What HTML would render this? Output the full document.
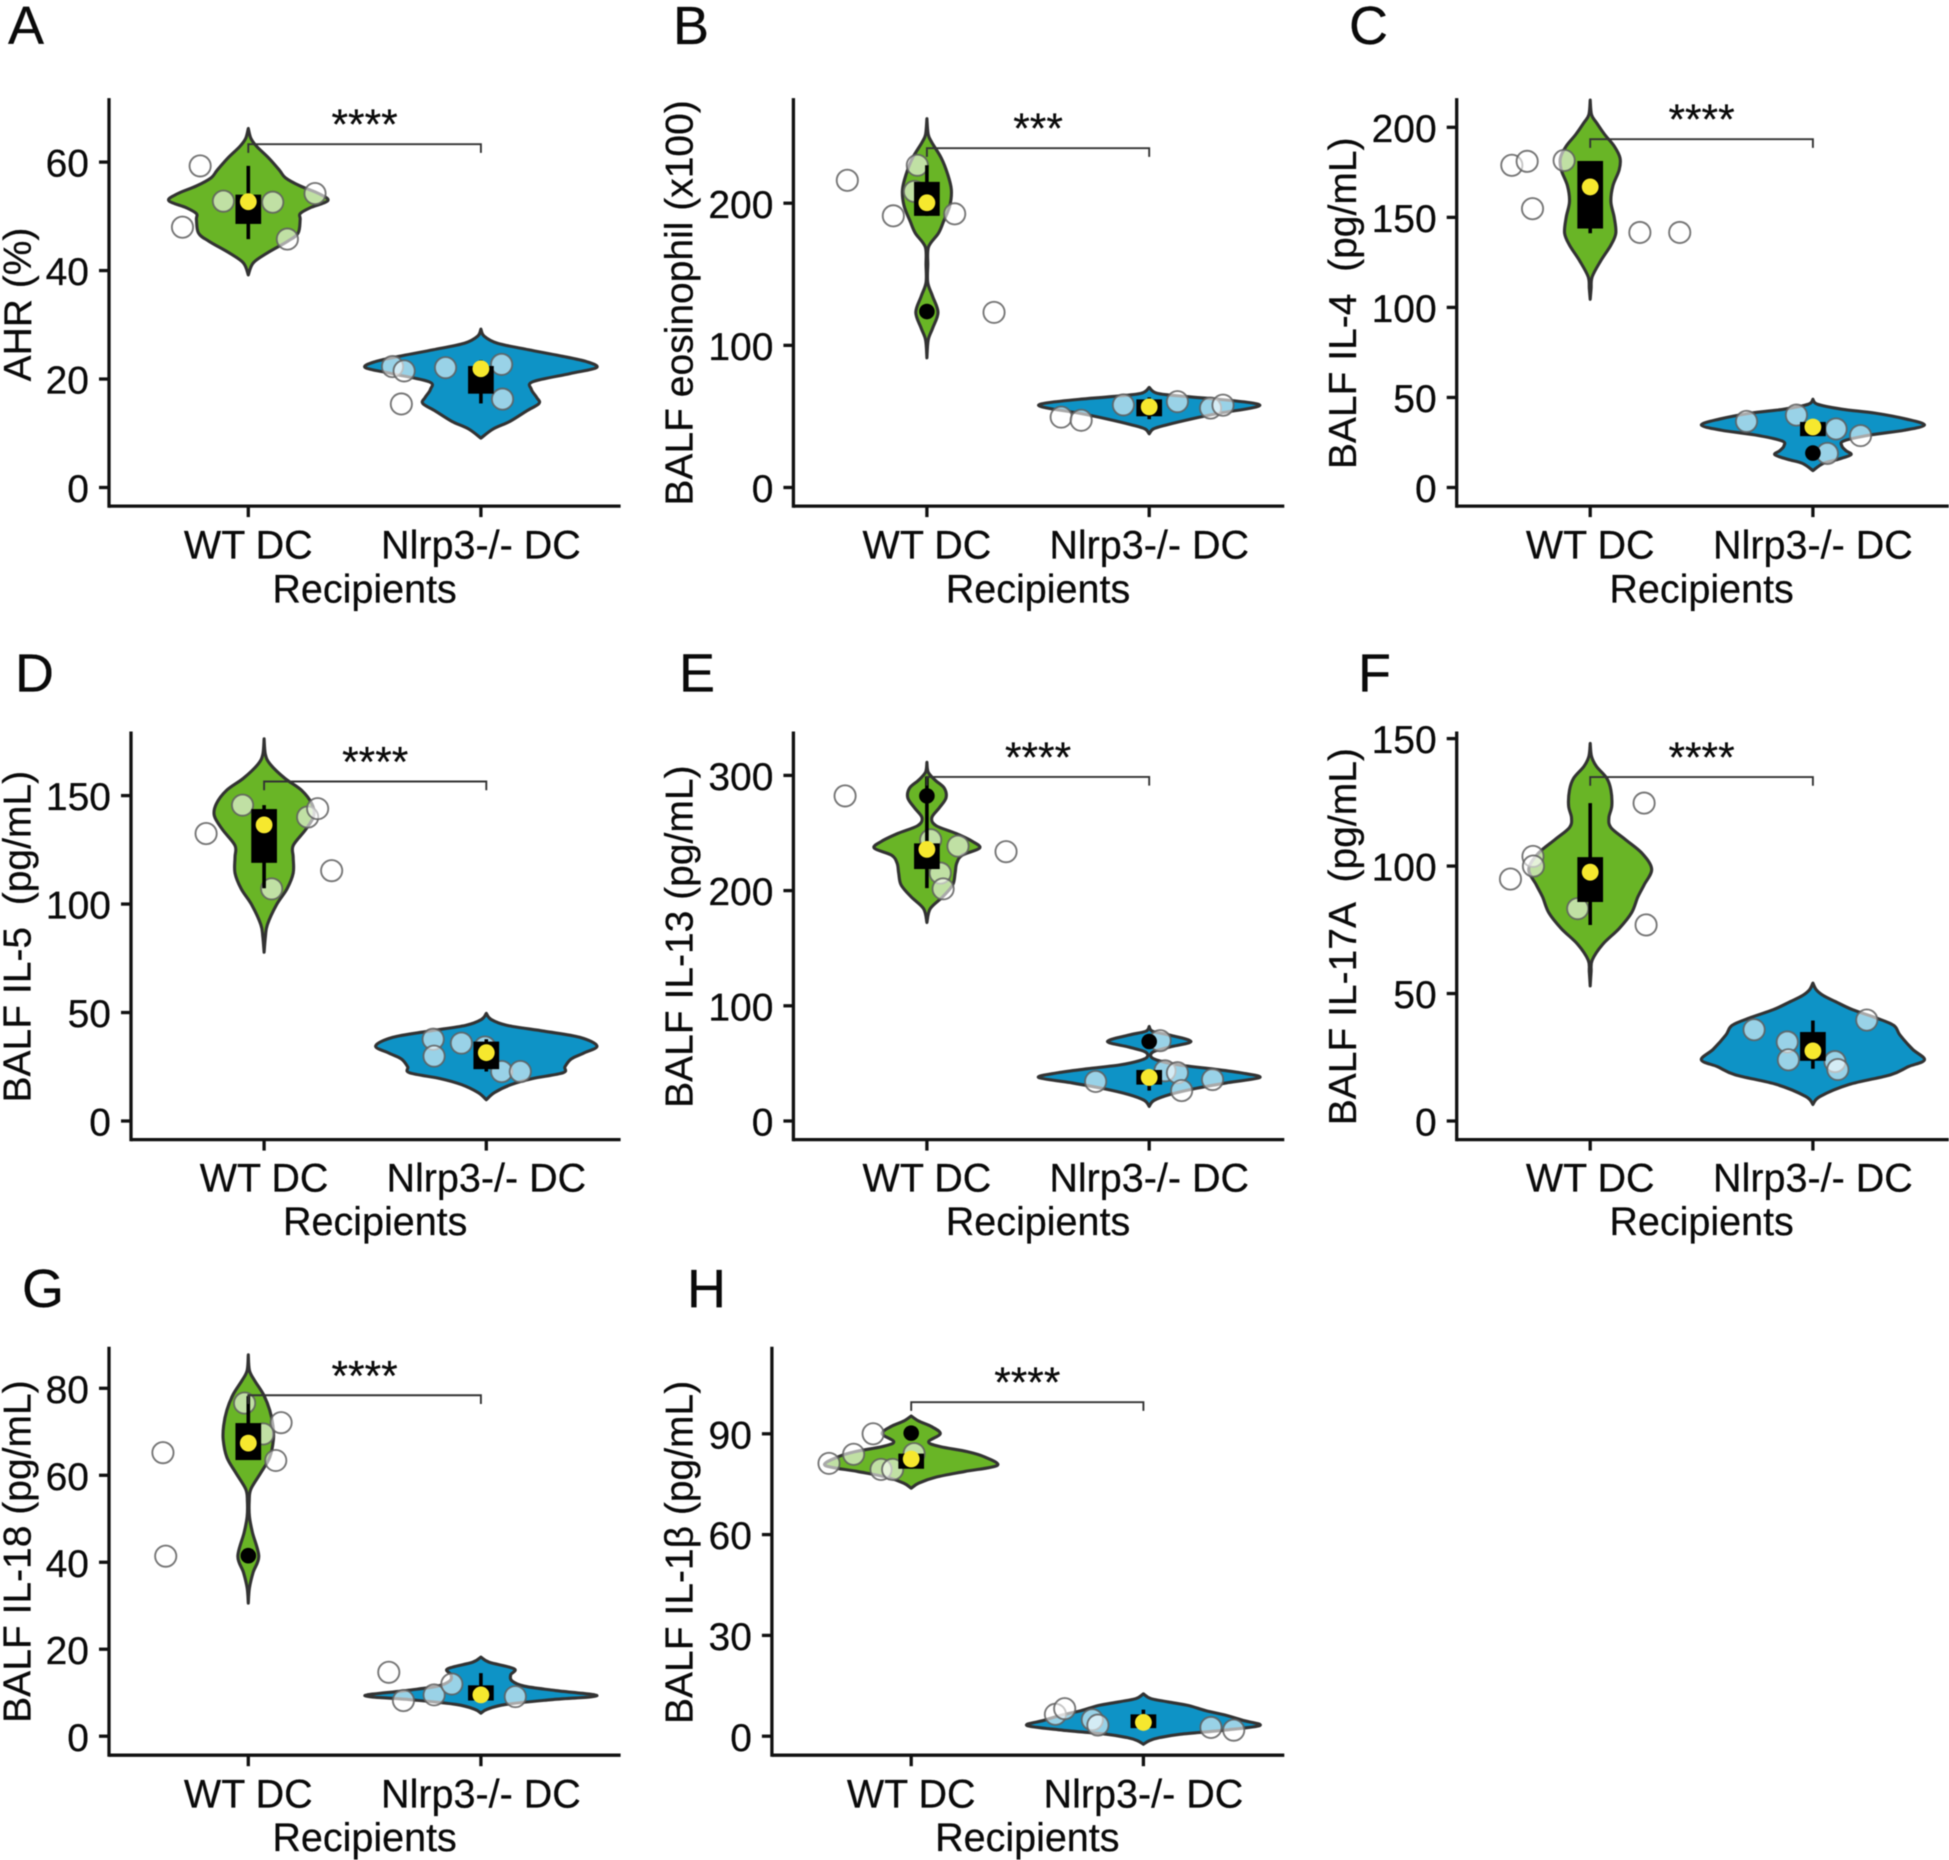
<!DOCTYPE html>
<html lang="en">
<head>
<meta charset="utf-8">
<title>Violin plots: WT DC vs Nlrp3-/- DC recipients</title>
<style>
html,body{margin:0;padding:0;background:#fff;}
svg{display:block;filter:blur(0.45px);}
text{font-family:"Liberation Sans",Arial,sans-serif;fill:#0a0a0a;stroke:#0a0a0a;stroke-width:.25px;}
.letter{font-size:54px;}
.cat,.xt{font-size:39.5px;text-anchor:middle;}
.yt{font-size:39px;text-anchor:middle;white-space:pre;}
</style>
</head>
<body>
<svg id="figure" xmlns="http://www.w3.org/2000/svg" width="1949" height="1860" viewBox="0 0 1949 1860">
<rect width="1949" height="1860" fill="#fff"/>

<text class="letter" x="8" y="44">A</text>
<text class="yt" transform="translate(31,304.5) rotate(-90)">AHR (%)</text>
<text class="cat" x="248.3" y="558.7">WT DC</text>
<text class="cat" x="480.9" y="558.7">Nlrp3-/- DC</text>
<text class="xt" x="364.6" y="602.7">Recipients</text>

<text class="letter" x="673" y="44">B</text>
<text class="yt" transform="translate(692.7,302.9) rotate(-90)">BALF eosinophil (x100)</text>
<text class="cat" x="926.9" y="558.7">WT DC</text>
<text class="cat" x="1149.2" y="558.7">Nlrp3-/- DC</text>
<text class="xt" x="1038" y="602.7">Recipients</text>

<text class="letter" x="1349" y="44">C</text>
<text class="yt" transform="translate(1356,303.3) rotate(-90)">BALF IL-4  (pg/mL)</text>
<text class="cat" x="1590.2" y="558.7">WT DC</text>
<text class="cat" x="1812.9" y="558.7">Nlrp3-/- DC</text>
<text class="xt" x="1701.6" y="602.7">Recipients</text>

<text class="letter" x="15" y="691.6">D</text>
<text class="yt" transform="translate(30.3,936.7) rotate(-90)">BALF IL-5  (pg/mL)</text>
<text class="cat" x="264.1" y="1191.4">WT DC</text>
<text class="cat" x="486.3" y="1191.4">Nlrp3-/- DC</text>
<text class="xt" x="375.2" y="1234.9">Recipients</text>

<text class="letter" x="679" y="691.6">E</text>
<text class="yt" transform="translate(692.7,936.7) rotate(-90)">BALF IL-13 (pg/mL)</text>
<text class="cat" x="926.9" y="1191.4">WT DC</text>
<text class="cat" x="1149.2" y="1191.4">Nlrp3-/- DC</text>
<text class="xt" x="1038" y="1234.9">Recipients</text>

<text class="letter" x="1358" y="691.6">F</text>
<text class="yt" transform="translate(1356,936.7) rotate(-90)">BALF IL-17A  (pg/mL)</text>
<text class="cat" x="1590.2" y="1191.4">WT DC</text>
<text class="cat" x="1812.9" y="1191.4">Nlrp3-/- DC</text>
<text class="xt" x="1701.6" y="1234.9">Recipients</text>

<text class="letter" x="22" y="1307">G</text>
<text class="yt" transform="translate(30.3,1551.6) rotate(-90)">BALF IL-18 (pg/mL)</text>
<text class="cat" x="248.3" y="1807.4">WT DC</text>
<text class="cat" x="480.9" y="1807.4">Nlrp3-/- DC</text>
<text class="xt" x="364.6" y="1851.2">Recipients</text>

<text class="letter" x="687" y="1307">H</text>
<text class="yt" transform="translate(692.7,1552.4) rotate(-90)">BALF IL-1β (pg/mL)</text>
<text class="cat" x="911.2" y="1807.4">WT DC</text>
<text class="cat" x="1143.4" y="1807.4">Nlrp3-/- DC</text>
<text class="xt" x="1027.3" y="1851.2">Recipients</text>
</svg>

<script>
/* ---------- Panel A: AHR (%) ---------- */
const A_ticks=[0,20,40,60];
const A_sig=["****"];
const A_bracket=[63.3];
const A_wt_violinV=[66.2,64.4,62.9,60.7,58.5,57.1,55.6,54.2,52.9,51.6,50.5,49.4,46.9,45.4,43.2,41.4,39.2];
const A_wt_violinW=[0,1.1,3.6,8.9,13.4,16,22.3,30.3,34.2,26.7,22.3,22.3,21.4,16.9,8,2.1,0];
const A_wt_points=[59.3,48,52.8,52.6,54.2,45.8];
const A_wt_jitter=[-.207,-.283,-.107,.105,.287,.168];
const A_wt_box=[48.6,54];
const A_wt_whisker=[45.8,59.3];
const A_wt_mean=[52.7];
const A_wt_outliers=[];
const A_ko_violinV=[29.2,27.9,26.6,25.4,24.3,23.2,22.1,21,19.5,18.1,16.6,15.5,14.1,12.2,10.8,9.1];
const A_ko_violinW=[0,1.4,7.1,20.5,33.9,45.5,49.7,38.3,22.3,21.7,24,25,19.6,12.5,5.3,0];
const A_ko_points=[22.3,21.5,22.1,22.7,16.3,15.4];
const A_ko_jitter=[-.38,-.33,-.152,.089,.093,-.342];
const A_ko_box=[17.3,22.4];
const A_ko_whisker=[15.5,23.5];
const A_ko_mean=[21.9];
const A_ko_outliers=[];

/* ---------- Panel B: BALF eosinophil ---------- */
const B_ticks=[0,100,200];
const B_sig=["***"];
const B_bracket=[238.7];
const B_wt_violinV=[259.5,248.4,242.8,231.7,220.6,209.5,198.3,187.2,178.9,169.1,156.6,144.1,134.4,123.2,112.1,103.8,91.2];
const B_wt_violinW=[0,.6,2.2,6.5,9.3,11,10.3,7.5,5.2,.7,.4,.4,2.6,5,2.6,.6,0];
const B_wt_points=[216.1,191.1,192.5,226.7,208.3,123.2];
const B_wt_jitter=[-.358,-.151,.125,-.043,-.056,.302];
const B_wt_box=[191.1,215];
const B_wt_whisker=[191.1,226.7];
const B_wt_mean=[200.3];
const B_wt_outliers=[123.8];
const B_ko_violinV=[70.4,66.2,64,62,59.8,57.9,55.6,52.3,48.1,43.9,41.2,37.8];
const B_ko_violinW=[0,3.7,16.8,31.7,44.8,49.8,44.8,31.7,18.7,7.5,1.9,0];
const B_ko_points=[49.5,47.3,58.1,60.4,55.9,57.9];
const B_ko_jitter=[-.396,-.306,-.116,.127,.276,.332];
const B_ko_box=[50.1,62];
const B_ko_whisker=[48.1,63.4];
const B_ko_mean=[56.7];
const B_ko_outliers=[];

/* ---------- Panel C: BALF IL-4 ---------- */
const C_ticks=[0,50,100,150,200];
const C_sig=["****"];
const C_bracket=[193.4];
const C_wt_violinV=[215.1,207,202.6,196,189.5,182.9,176.3,167.5,158.7,149.9,141.2,134.6,125.8,117,110.4,104.5];
const C_wt_violinW=[0,.6,2.8,6.5,10.8,13.4,13,10.2,9.3,10.8,11.5,9.3,4.7,.9,.4,0];
const C_wt_points=[178.9,181.1,181.6,154.8,141.6,141.6];
const C_wt_jitter=[-.352,-.283,-.117,-.259,.223,.402];
const C_wt_box=[143.8,181.3];
const C_wt_whisker=[141.2,181.3];
const C_wt_mean=[166.9];
const C_wt_outliers=[];
const C_ko_violinV=[49,46.3,43.5,41.3,38,34.7,31.8,29.2,25.9,23.1,20.4,18.2,15.6,13.4,9.4];
const C_ko_violinW=[0,1.9,13,27.9,41.9,50.1,41,26.1,14,13,14.9,17.1,11.2,4.7,0];
const C_ko_points=[36.7,40.2,32.5,28.8,18.9];
const C_ko_jitter=[-.298,-.074,.104,.214,.065];
const C_ko_box=[28.5,36.4];
const C_ko_whisker=[28.5,36.8];
const C_ko_mean=[33.6];
const C_ko_outliers=[19.1];

/* ---------- Panel D: BALF IL-5 ---------- */
const D_ticks=[0,50,100,150];
const D_sig=["****"];
const D_bracket=[156.5];
const D_wt_violinV=[176.2,168.9,164.4,158,152.5,146.2,140.7,134.3,127,121.6,114.3,107,99.7,90.6,85.1,77.8];
const D_wt_violinW=[0,.6,2.8,9.3,16.8,21.5,22.4,18.7,13.1,13.1,13.1,10.3,5.6,1.5,.6,0];
const D_wt_points=[132.5,145.6,140.1,144,115.4,107];
const D_wt_jitter=[-.261,-.097,.196,.241,.304,.034];
const D_wt_box=[119,143.8];
const D_wt_whisker=[107.3,145.6];
const D_wt_mean=[136.5];
const D_wt_outliers=[];
const D_ko_violinV=[49.6,46.8,44.1,41.4,38.6,34.6,31.3,28.6,25,22.2,19.5,16.8,13.1,9.8];
const D_ko_violinW=[0,2.2,9.3,26.1,42,49.8,43.8,38.2,35.4,34.5,20.5,11.2,3.7,0];
const D_ko_points=[37.7,29.9,35.9,34.1,22.8,22.8];
const D_ko_jitter=[-.239,-.235,-.112,-.006,.069,.153];
const D_ko_box=[23.9,36.6];
const D_ko_whisker=[22.8,37.7];
const D_ko_mean=[31.5];
const D_ko_outliers=[];

/* ---------- Panel E: BALF IL-13 ---------- */
const E_ticks=[0,100,200,300];
const E_sig=["****"];
const E_bracket=[298.7];
const E_wt_violinV=[311.4,302.8,295.9,289,280.5,271.9,263.3,256.4,249.6,242.7,236.9,230.7,223.8,215.2,204.9,194.6,184.3,172.3];
const E_wt_violinW=[0,.6,3.7,7.8,8.6,5.6,2.2,4.1,13.1,20.5,23.7,15.9,13.4,12.7,11.6,7.1,1.5,0];
const E_wt_points=[282.2,233.8,244.1,238.6,215.2,201.5];
const E_wt_jitter=[-.368,.356,.017,.14,.06,.073];
const E_wt_box=[218.7,241];
const E_wt_whisker=[202.2,299];
const E_wt_mean=[235.8];
const E_wt_outliers=[282.2];
const E_ko_violinV=[82,77.9,74.5,69,64.2,60.1,55.6,52.2,48.7,45.3,41.9,37.8,33.3,28.1,23,17.9,12.7];
const E_ko_violinW=[0,1.5,9.3,18.8,9.3,1.9,.9,4.7,13.1,28,41,49.8,35.4,20.5,9.3,2.2,0];
const E_ko_points=[34.3,69.7,43.6,41.9,26.4,36];
const E_ko_jitter=[-.241,.049,.071,.127,.146,.285];
const E_ko_box=[31.6,44.3];
const E_ko_whisker=[26.4,44.3];
const E_ko_mean=[37.8];
const E_ko_outliers=[69];

/* ---------- Panel F: BALF IL-17A ---------- */
const F_ticks=[0,50,100,150];
const F_sig=["****"];
const F_bracket=[134.9];
const F_wt_violinV=[148.1,143,139.1,134.5,129.8,123.6,119,115.1,110.4,105,98.8,92.6,87.9,81.7,75.5,69.3,63.1,58.5,53];
const F_wt_violinW=[0,.6,2.8,7.4,9.3,9.7,8.4,9.3,15.8,23.3,27.6,24.2,21.4,18.6,13,5.6,.9,.4,0];
const F_wt_points=[94.9,103.8,100,83.3,124.7,76.9];
const F_wt_jitter=[-.358,-.257,-.255,-.056,.242,.251];
const F_wt_box=[85.9,103.5];
const F_wt_whisker=[76.9,124.7];
const F_wt_mean=[97.6];
const F_wt_outliers=[];
const F_ko_violinV=[54.1,51.5,49.2,46.8,43.7,40.6,37.5,33.7,28.2,24,21.3,18.1,14.3,9.6,6.5];
const F_ko_violinW=[0,1.5,4.7,10.2,17.7,27.9,36.3,39.1,44.7,50.1,42.8,34.8,16.2,3.2,0];
const F_ko_points=[35.8,31,24,23.3,20.2,39.6];
const F_ko_jitter=[-.264,-.115,-.11,.099,.112,.242];
const F_ko_box=[23.6,34.9];
const F_ko_whisker=[20.5,39.4];
const F_ko_mean=[27.5];
const F_ko_outliers=[];

/* ---------- Panel G: BALF IL-18 ---------- */
const G_ticks=[0,20,40,60,80];
const G_sig=["****"];
const G_bracket=[78.4];
const G_wt_violinV=[87.7,84.1,81.8,78.6,75,71.4,68.2,64.1,60.5,56.8,54.1,50.5,46.8,41.4,37.7,34.1,30.6];
const G_wt_violinW=[0,.5,2.7,6.5,9.2,10.6,10.8,9.2,5.3,1.1,.4,.5,1.8,4.5,2.1,.5,0];
const G_wt_points=[65.2,41.4,76.6,69.5,72.1,63.4];
const G_wt_jitter=[-.367,-.355,-.016,.064,.141,.118];
const G_wt_box=[63.5,72];
const G_wt_whisker=[63.5,78.2];
const G_wt_mean=[67.4];
const G_wt_outliers=[41.5];
const G_ko_violinV=[18.2,17,15.5,14.1,12.7,11.5,10.5,9.3,8.4,7.3,6.2,5.3];
const G_ko_violinW=[0,3.6,14.3,12.8,13.4,18.7,32.1,49.9,30.3,10.7,2.7,0];
const G_ko_points=[14.7,8.2,9.5,12,9.1];
const G_ko_jitter=[-.396,-.333,-.201,-.125,.148];
const G_ko_box=[8.2,11.7];
const G_ko_whisker=[7.7,14.5];
const G_ko_mean=[9.5];
const G_ko_outliers=[];

/* ---------- Panel H: BALF IL-1beta ---------- */
const H_ticks=[0,30,60,90];
const H_sig=["****"];
const H_bracket=[99.4];
const H_wt_violinV=[95.3,93.8,92.1,90,87.6,86.2,84.7,83.2,80.6,78.8,77.1,75.3,73.8];
const H_wt_violinW=[0,3.2,8.9,12.5,7.5,12.5,24.1,31.3,37.1,23.2,10.7,3.2,0];
const H_wt_points=[81.2,83.9,90,79.4,79.4,84.1];
const H_wt_jitter=[-.354,-.248,-.164,-.13,-.08,.0125];
const H_wt_box=[79.6,84.1];
const H_wt_whisker=[79.6,84.1];
const H_wt_mean=[82.5];
const H_wt_outliers=[90.2];
const H_ko_violinV=[12.6,11.2,10.2,9.1,7.6,6.2,4.7,3.2,1.8,.6,-.4,-1.3,-2.4];
const H_ko_violinW=[0,3.2,10.7,19.6,26.8,35.7,42.9,50.2,34.8,16.1,7.1,2.7,0];
const H_ko_points=[6.5,8.2,4.9,3.3,2.6,1.8];
const H_ko_jitter=[-.379,-.339,-.22,-.196,.291,.389];
const H_ko_box=[2.4,6.5];
const H_ko_whisker=[2.4,7.9];
const H_ko_mean=[4.1];
const H_ko_outliers=[];

function series(v,w,p,j,b,wh,m,o){return {violinV:v,violinW:w,points:p,jitter:j,box:b,whisker:wh,mean:m,outliers:o};}

/* geometry: plot frame in px, category positions in px, two reference points of the y scale */
const panels=[
 {id:'a',L:109,B:506.1,T:98.1,R:620.6,c1:248.3,c2:480.9,v0:0,p0:487.5,v1:60,p1:162.1,ticks:A_ticks,sig:A_sig,bracket:A_bracket,
  wt:series(A_wt_violinV,A_wt_violinW,A_wt_points,A_wt_jitter,A_wt_box,A_wt_whisker,A_wt_mean,A_wt_outliers),
  ko:series(A_ko_violinV,A_ko_violinW,A_ko_points,A_ko_jitter,A_ko_box,A_ko_whisker,A_ko_mean,A_ko_outliers)},
 {id:'b',L:793.4,B:506.1,T:98.1,R:1284.3,c1:926.9,c2:1149.2,v0:0,p0:487.5,v1:200,p1:203.2,ticks:B_ticks,sig:B_sig,bracket:B_bracket,
  wt:series(B_wt_violinV,B_wt_violinW,B_wt_points,B_wt_jitter,B_wt_box,B_wt_whisker,B_wt_mean,B_wt_outliers),
  ko:series(B_ko_violinV,B_ko_violinW,B_ko_points,B_ko_jitter,B_ko_box,B_ko_whisker,B_ko_mean,B_ko_outliers)},
 {id:'c',L:1456.7,B:506.1,T:98.1,R:1948.8,c1:1590.2,c2:1812.9,v0:0,p0:487.5,v1:200,p1:127.3,ticks:C_ticks,sig:C_sig,bracket:C_bracket,
  wt:series(C_wt_violinV,C_wt_violinW,C_wt_points,C_wt_jitter,C_wt_box,C_wt_whisker,C_wt_mean,C_wt_outliers),
  ko:series(C_ko_violinV,C_ko_violinW,C_ko_points,C_ko_jitter,C_ko_box,C_ko_whisker,C_ko_mean,C_ko_outliers)},
 {id:'d',L:131,B:1139.6,T:731.5,R:620.6,c1:264.1,c2:486.3,v0:0,p0:1121,v1:150,p1:795.6,ticks:D_ticks,sig:D_sig,bracket:D_bracket,
  wt:series(D_wt_violinV,D_wt_violinW,D_wt_points,D_wt_jitter,D_wt_box,D_wt_whisker,D_wt_mean,D_wt_outliers),
  ko:series(D_ko_violinV,D_ko_violinW,D_ko_points,D_ko_jitter,D_ko_box,D_ko_whisker,D_ko_mean,D_ko_outliers)},
 {id:'e',L:793.4,B:1139.6,T:731.5,R:1284.3,c1:926.9,c2:1149.2,v0:0,p0:1121,v1:300,p1:775.4,ticks:E_ticks,sig:E_sig,bracket:E_bracket,
  wt:series(E_wt_violinV,E_wt_violinW,E_wt_points,E_wt_jitter,E_wt_box,E_wt_whisker,E_wt_mean,E_wt_outliers),
  ko:series(E_ko_violinV,E_ko_violinW,E_ko_points,E_ko_jitter,E_ko_box,E_ko_whisker,E_ko_mean,E_ko_outliers)},
 {id:'f',L:1456.7,B:1139.6,T:731.5,R:1948.8,c1:1590.2,c2:1812.9,v0:0,p0:1121,v1:150,p1:738.6,ticks:F_ticks,sig:F_sig,bracket:F_bracket,
  wt:series(F_wt_violinV,F_wt_violinW,F_wt_points,F_wt_jitter,F_wt_box,F_wt_whisker,F_wt_mean,F_wt_outliers),
  ko:series(F_ko_violinV,F_ko_violinW,F_ko_points,F_ko_jitter,F_ko_box,F_ko_whisker,F_ko_mean,F_ko_outliers)},
 {id:'g',L:109,B:1755.2,T:1346.8,R:620.6,c1:248.3,c2:480.9,v0:0,p0:1736.2,v1:80,p1:1388.3,ticks:G_ticks,sig:G_sig,bracket:G_bracket,
  wt:series(G_wt_violinV,G_wt_violinW,G_wt_points,G_wt_jitter,G_wt_box,G_wt_whisker,G_wt_mean,G_wt_outliers),
  ko:series(G_ko_violinV,G_ko_violinW,G_ko_points,G_ko_jitter,G_ko_box,G_ko_whisker,G_ko_mean,G_ko_outliers)},
 {id:'h',L:771.9,B:1755.2,T:1346.8,R:1284.3,c1:911.2,c2:1143.4,v0:0,p0:1736.2,v1:90,p1:1433.8,ticks:H_ticks,sig:H_sig,bracket:H_bracket,
  wt:series(H_wt_violinV,H_wt_violinW,H_wt_points,H_wt_jitter,H_wt_box,H_wt_whisker,H_wt_mean,H_wt_outliers),
  ko:series(H_ko_violinV,H_ko_violinW,H_ko_points,H_ko_jitter,H_ko_box,H_ko_whisker,H_ko_mean,H_ko_outliers)}
];

const NS='http://www.w3.org/2000/svg';
const root=document.getElementById('figure');
function mk(parent,tag,attrs){
  const e=document.createElementNS(NS,tag);
  for(const k in attrs){e.setAttribute(k,attrs[k]);}
  parent.appendChild(e);
  return e;
}
function yAxisFn(p){const k=(p.p1-p.p0)/(p.v1-p.v0);return function(v){return p.p0+(v-p.v0)*k;};}
function xAxisFn(p){return function(c){return p.c1+c*(p.c2-p.c1);};}

function halfCurve(pts,sign,cx,reverse){
  /* Catmull-Rom through (half-width, y) pairs, mirrored by sign */
  const seq=reverse?pts.slice().reverse():pts;
  let d='';
  const X=function(h){return (cx+sign*Math.max(0,h)).toFixed(2);};
  for(let i=0;i<seq.length-1;i++){
    const p0=seq[i-1]||seq[i],p1=seq[i],p2=seq[i+1],p3=seq[i+2]||seq[i+1];
    const c1h=p1[0]+(p2[0]-p0[0])/6,c1y=p1[1]+(p2[1]-p0[1])/6;
    const c2h=p2[0]-(p3[0]-p1[0])/6,c2y=p2[1]-(p3[1]-p1[1])/6;
    d+='C'+X(c1h)+' '+c1y.toFixed(2)+' '+X(c2h)+' '+c2y.toFixed(2)+' '+X(p2[0])+' '+p2[1].toFixed(2);
  }
  return d;
}

function drawSeries(g,s,key,catIndex,x,y,spacing,fill){
  const cx=x(catIndex);
  const pts=s.violinV.map(function(v,i){return [s.violinW[i]/100*spacing,y(v)];});
  const d='M'+(cx-pts[0][0]).toFixed(2)+' '+pts[0][1].toFixed(2)+halfCurve(pts,-1,cx,false)+halfCurve(pts,1,cx,true)+'Z';
  const vio=mk(g,'path',{d:d,fill:fill,stroke:'#333','stroke-width':3.1,'stroke-linejoin':'round'});
  
  

  s.points.forEach(function(v,i){
    const c=mk(g,'circle',{cx:x(catIndex+s.jitter[i]),cy:y(v),r:10.6,fill:'rgba(255,255,255,0.58)',stroke:'rgba(95,95,95,0.85)','stroke-width':1.9});
    
    
  });

  const wl=mk(g,'line',{x1:cx,x2:cx,y1:y(s.whisker[0]),y2:y(s.whisker[1]),stroke:'#000','stroke-width':3.6});
  
  

  const boxW=25.7;
  const b=mk(g,'rect',{x:cx-boxW/2,y:y(s.box[1]),width:boxW,height:y(s.box[0])-y(s.box[1]),fill:'#000'});
  
  

  s.outliers.forEach(function(v){
    const o=mk(g,'circle',{cx:cx,cy:y(v),r:7.8,fill:'#000'});
    
    
  });

  s.mean.forEach(function(v){
    const m=mk(g,'circle',{cx:cx,cy:y(v),r:8.4,fill:'#f6e82e'});
    
    
  });
}

panels.forEach(function(p){
  const y=yAxisFn(p),x=xAxisFn(p),spacing=p.c2-p.c1;
  const g=mk(root,'g',{});
  
  

  drawSeries(g,p.wt,'wt',0,x,y,spacing,'#69b526');
  drawSeries(g,p.ko,'ko',1,x,y,spacing,'#0e93c6');

  /* axes */
  const ya=mk(g,'line',{x1:p.L,x2:p.L,y1:p.T,y2:p.B+1.6,stroke:'#111','stroke-width':3.3});
  
  
  const xa=mk(g,'line',{x1:p.L,x2:p.R,y1:p.B,y2:p.B,stroke:'#111','stroke-width':3.3});
  
  

  [0,1].forEach(function(c){
    const t=mk(g,'line',{x1:x(c),x2:x(c),y1:p.B,y2:p.B+11,stroke:'#111','stroke-width':3.3});
    
    
  });
  p.ticks.forEach(function(v){
    const t=mk(g,'line',{x1:p.L-10,x2:p.L,y1:y(v),y2:y(v),stroke:'#111','stroke-width':3.3});
    
    
    const lab=mk(g,'text',{x:p.L-20,y:y(v)+14.6,'text-anchor':'end','font-size':39});
    lab.textContent=String(v);
    
    
  });

  /* significance bracket */
  const by=y(p.bracket[0]);
  const br=mk(g,'path',{d:'M'+x(0)+' '+(by+8.7)+'V'+by+'H'+x(1)+'V'+(by+8.7),fill:'none',stroke:'#333','stroke-width':1.9});
  
  
  const st=mk(g,'text',{x:x(0.5),y:by-5,'text-anchor':'middle','font-size':42.5});
  st.textContent=p.sig[0];
  
  
});
</script>
</body>
</html>
